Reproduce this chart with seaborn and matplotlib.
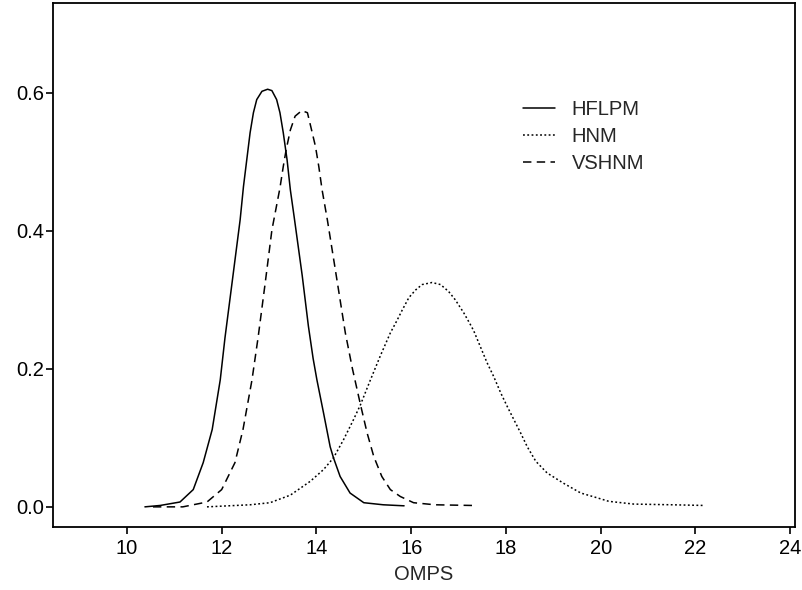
import matplotlib
matplotlib.use("Agg")
import matplotlib.pyplot as plt
import pandas as pd
import seaborn as sns

# density curves
hflpm_x = [10.38, 10.7, 11.12, 11.4, 11.61, 11.8, 11.97, 12.07, 12.22, 12.39, 12.46,
           12.53, 12.6, 12.67, 12.74, 12.85, 12.97, 13.06, 13.16, 13.23, 13.3, 13.38,
           13.45, 13.53, 13.7, 13.83, 13.93, 14.01, 14.15, 14.29, 14.36, 14.5, 14.71,
           15.0, 15.41, 15.85]
hflpm_y = [0.0, 0.002, 0.007, 0.025, 0.064, 0.112, 0.184, 0.245, 0.325, 0.416, 0.464,
           0.503, 0.542, 0.571, 0.59, 0.602, 0.605, 0.603, 0.59, 0.571, 0.542, 0.503,
           0.459, 0.42, 0.335, 0.262, 0.215, 0.184, 0.136, 0.087, 0.071, 0.044, 0.02,
           0.006, 0.003, 0.0015]

hnm_x = [11.69, 12.6, 13.02, 13.45, 13.87, 14.15, 14.36, 14.57, 14.78, 14.93, 15.14,
         15.35, 15.56, 15.7, 15.81, 15.95, 16.09, 16.23, 16.44, 16.62, 16.79, 16.93,
         17.11, 17.25, 17.32, 17.46, 17.6, 17.74, 17.89, 18.03, 18.17, 18.31, 18.45,
         18.63, 18.87, 19.22, 19.58, 19.93, 20.17, 20.7, 21.5, 22.2]
hnm_y = [0.0, 0.003, 0.006, 0.017, 0.037, 0.054, 0.071, 0.097, 0.126, 0.148, 0.184,
         0.219, 0.252, 0.27, 0.285, 0.303, 0.314, 0.322, 0.325, 0.322, 0.312, 0.3,
         0.281, 0.264, 0.255, 0.232, 0.209, 0.189, 0.165, 0.145, 0.126, 0.107, 0.087,
         0.066, 0.049, 0.034, 0.02, 0.013, 0.008, 0.004, 0.003, 0.002]

vshnm_x = [10.55, 11.18, 11.69, 12.0, 12.28, 12.45, 12.64, 12.77, 12.92, 13.06, 13.23,
           13.3, 13.36, 13.45, 13.55, 13.69, 13.81, 13.88, 13.98, 14.05, 14.12, 14.23,
           14.4, 14.61, 14.76, 14.93, 15.07, 15.21, 15.38, 15.56, 15.77, 16.05, 16.5,
           17.3]
vshnm_y = [0.0, 0.0, 0.007, 0.025, 0.064, 0.112, 0.184, 0.246, 0.325, 0.401, 0.462,
           0.493, 0.517, 0.546, 0.566, 0.574, 0.571, 0.551, 0.522, 0.493, 0.459, 0.416,
           0.343, 0.252, 0.2, 0.148, 0.107, 0.073, 0.044, 0.025, 0.015, 0.006, 0.003,
           0.002]

series = ["HFLPM", "HNM", "VSHNM"]
x_ticks = [10, 12, 14, 16, 18, 20, 22, 24]
y_ticks = [0.0, 0.2, 0.4, 0.6]

frames = []
for name, xs, ys in [("HFLPM", hflpm_x, hflpm_y), ("HNM", hnm_x, hnm_y), ("VSHNM", vshnm_x, vshnm_y)]:
    frames.append(pd.DataFrame({"OMPS": xs, "density": ys, "group": name}))
df = pd.concat(frames, ignore_index=True)

sns.set_style("ticks")
plt.rcParams["font.family"] = ["Liberation Sans", "DejaVu Sans"]

fig = plt.figure(figsize=(8.03, 5.90), dpi=100)
ax = fig.add_axes([0.066, 0.107, 0.924, 0.888])

sns.lineplot(
    data=df, x="OMPS", y="density", style="group", style_order=series,
    dashes={"HFLPM": "", "HNM": (1.2, 1.6), "VSHNM": (5.5, 3.5)},
    color="black", linewidth=1.1, sort=False, ax=ax,
)

ax.set_xlim(8.44, 24.1)
ax.set_ylim(-0.029, 0.730)
ax.set_xticks(x_ticks)
ax.set_yticks(y_ticks)
ax.set_yticklabels([f"{v:.1f}" for v in y_ticks])
ax.tick_params(axis="both", labelsize=14.5, length=5, width=1.2, direction="out", colors="black")
ax.tick_params(axis="y", pad=1.5)
ax.tick_params(axis="x", pad=4)
ax.set_xlabel("OMPS", fontsize=14.5, labelpad=5)
ax.set_ylabel("")
for spine in ax.spines.values():
    spine.set_visible(True)
    spine.set_linewidth(1.3)
    spine.set_color("black")

leg = ax.legend(
    loc="upper left", bbox_to_anchor=(0.609, 0.850), frameon=False, fontsize=14.5,
    handlelength=1.6, handletextpad=0.82, labelspacing=0.4,
)

fig.savefig("out.png", dpi=100)
